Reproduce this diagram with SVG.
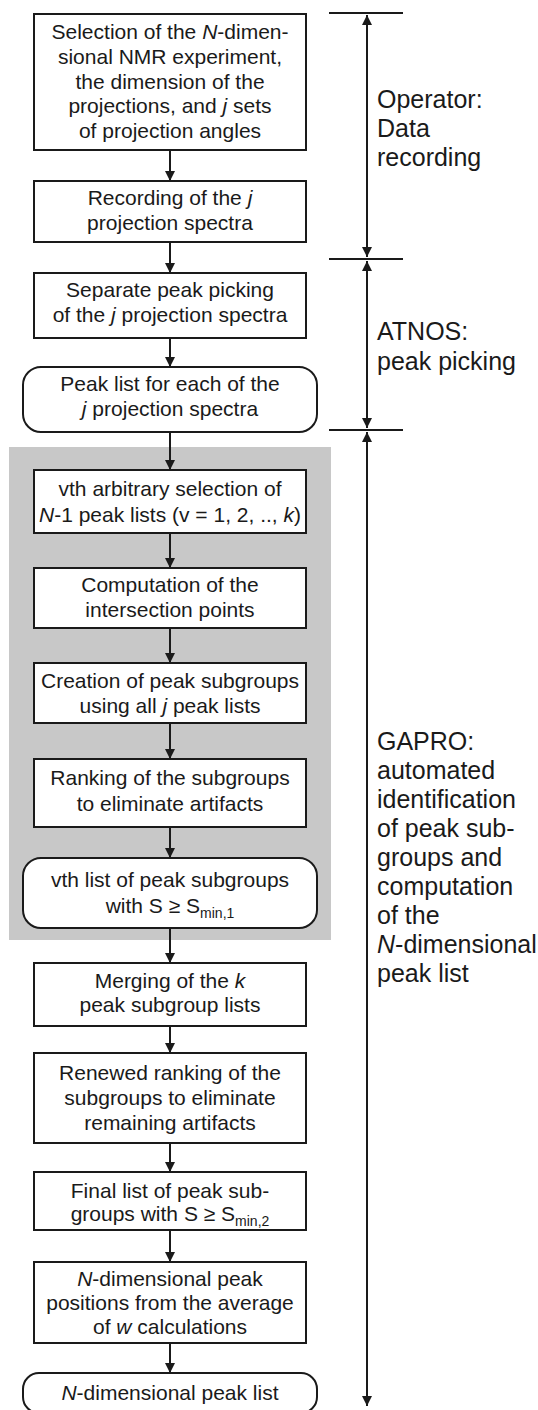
<svg xmlns="http://www.w3.org/2000/svg" width="538" height="1410" viewBox="0 0 538 1410">
  <defs>
    <marker id="head" viewBox="0 0 10 10" refX="10" refY="5" markerWidth="10" markerHeight="11" markerUnits="userSpaceOnUse" orient="auto-start-reverse">
      <path d="M0,0 L10,5 L0,10 Z" fill="#1a1a1a"/>
    </marker>
    <style>
      .box { fill: #ffffff; stroke: #1a1a1a; stroke-width: 2; }
      .t { font-family: "Liberation Sans", Arial, sans-serif; font-size: 21px; fill: #1a1a1a; text-anchor: middle; }
      .lbl { font-family: "Liberation Sans", Arial, sans-serif; font-size: 25px; fill: #1a1a1a; }
      .i { font-style: italic; }
      .sub { font-size: 14px; }
      .conn { stroke: #1a1a1a; stroke-width: 2; fill: none; }
      .bar { stroke: #1a1a1a; stroke-width: 2; }
    </style>
  </defs>

  <!-- shaded block: per-selection loop -->
  <rect x="9" y="447" width="322" height="493" fill="#c8c8c8"/>

  <g id="connectors">
    <line class="conn" x1="170" y1="150" x2="170" y2="181" marker-end="url(#head)"/>
    <line class="conn" x1="170" y1="242" x2="170" y2="273" marker-end="url(#head)"/>
    <line class="conn" x1="170" y1="338" x2="170" y2="367" marker-end="url(#head)"/>
    <line class="conn" x1="170" y1="432" x2="170" y2="470" marker-end="url(#head)"/>
    <line class="conn" x1="170" y1="533" x2="170" y2="568" marker-end="url(#head)"/>
    <line class="conn" x1="170" y1="628" x2="170" y2="663" marker-end="url(#head)"/>
    <line class="conn" x1="170" y1="723" x2="170" y2="759" marker-end="url(#head)"/>
    <line class="conn" x1="170" y1="827" x2="170" y2="858" marker-end="url(#head)"/>
    <line class="conn" x1="170" y1="928" x2="170" y2="963" marker-end="url(#head)"/>
    <line class="conn" x1="170" y1="1026" x2="170" y2="1053" marker-end="url(#head)"/>
    <line class="conn" x1="170" y1="1143" x2="170" y2="1172" marker-end="url(#head)"/>
    <line class="conn" x1="170" y1="1230" x2="170" y2="1262" marker-end="url(#head)"/>
    <line class="conn" x1="170" y1="1343" x2="170" y2="1373" marker-end="url(#head)"/>
  </g>

  <g id="n1">
    <rect class="box" x="34" y="14" width="272" height="136"/>
    <text class="t" x="170" y="39">Selection of the <tspan class="i">N</tspan>-dimen-</text>
    <text class="t" x="170" y="64">sional NMR experiment,</text>
    <text class="t" x="170" y="89">the dimension of the</text>
    <text class="t" x="170" y="113">projections, and <tspan class="i">j</tspan> sets</text>
    <text class="t" x="170" y="138">of projection angles</text>
  </g>

  <g id="n2">
    <rect class="box" x="34" y="181" width="272" height="61"/>
    <text class="t" x="170" y="205">Recording of the <tspan class="i">j</tspan></text>
    <text class="t" x="170" y="230">projection spectra</text>
  </g>

  <g id="n3">
    <rect class="box" x="34" y="273" width="272" height="65"/>
    <text class="t" x="170" y="297">Separate peak picking</text>
    <text class="t" x="170" y="322">of the <tspan class="i">j</tspan> projection spectra</text>
  </g>

  <g id="n4">
    <rect class="box" x="23" y="367" width="294" height="65" rx="18" ry="18"/>
    <text class="t" x="170" y="391">Peak list for each of the</text>
    <text class="t" x="170" y="416"><tspan class="i">j</tspan> projection spectra</text>
  </g>

  <g id="n5">
    <rect class="box" x="34" y="470" width="272" height="63"/>
    <text class="t" x="170" y="496">vth arbitrary selection of</text>
    <text class="t" x="170" y="522"><tspan class="i">N</tspan>-1 peak lists (v = 1, 2, .., <tspan class="i">k</tspan>)</text>
  </g>

  <g id="n6">
    <rect class="box" x="34" y="568" width="272" height="60"/>
    <text class="t" x="170" y="592">Computation of the</text>
    <text class="t" x="170" y="617">intersection points</text>
  </g>

  <g id="n7">
    <rect class="box" x="34" y="663" width="272" height="60"/>
    <text class="t" x="170" y="688">Creation of peak subgroups</text>
    <text class="t" x="170" y="713">using all <tspan class="i">j</tspan> peak lists</text>
  </g>

  <g id="n8">
    <rect class="box" x="34" y="759" width="272" height="68"/>
    <text class="t" x="170" y="785">Ranking of the subgroups</text>
    <text class="t" x="170" y="811">to eliminate artifacts</text>
  </g>

  <g id="n9">
    <rect class="box" x="23" y="858" width="294" height="70" rx="18" ry="18"/>
    <text class="t" x="170" y="887">vth list of peak subgroups</text>
    <text class="t" x="170" y="913">with S ≥ S<tspan class="sub" dy="5">min,1</tspan></text>
  </g>

  <g id="n10">
    <rect class="box" x="34" y="963" width="272" height="63"/>
    <text class="t" x="170" y="988">Merging of the <tspan class="i">k</tspan></text>
    <text class="t" x="170" y="1012">peak subgroup lists</text>
  </g>

  <g id="n11">
    <rect class="box" x="34" y="1053" width="272" height="90"/>
    <text class="t" x="170" y="1080">Renewed ranking of the</text>
    <text class="t" x="170" y="1105">subgroups to eliminate</text>
    <text class="t" x="170" y="1130">remaining artifacts</text>
  </g>

  <g id="n12">
    <rect class="box" x="34" y="1172" width="272" height="58"/>
    <text class="t" x="170" y="1198">Final list of peak sub-</text>
    <text class="t" x="170" y="1221">groups with S ≥ S<tspan class="sub" dy="5">min,2</tspan></text>
  </g>

  <g id="n13">
    <rect class="box" x="34" y="1262" width="272" height="81"/>
    <text class="t" x="170" y="1286"><tspan class="i">N</tspan>-dimensional peak</text>
    <text class="t" x="170" y="1310">positions from the average</text>
    <text class="t" x="170" y="1334">of <tspan class="i">w</tspan> calculations</text>
  </g>

  <g id="n14">
    <rect class="box" x="23" y="1373" width="294" height="40" rx="16" ry="16"/>
    <text class="t" x="170" y="1400"><tspan class="i">N</tspan>-dimensional peak list</text>
  </g>

  <!-- stage brackets on the right -->
  <g id="stages">
    <line class="bar" x1="329" y1="13" x2="403" y2="13"/>
    <line class="bar" x1="329" y1="259" x2="403" y2="259"/>
    <line class="bar" x1="329" y1="430" x2="403" y2="430"/>
    <line class="conn" x1="367" y1="15" x2="367" y2="257" marker-start="url(#head)" marker-end="url(#head)"/>
    <line class="conn" x1="367" y1="261" x2="367" y2="428" marker-start="url(#head)" marker-end="url(#head)"/>
    <line class="conn" x1="367" y1="432" x2="367" y2="1406" marker-start="url(#head)" marker-end="url(#head)"/>
  </g>

  <g id="stage-operator">
    <text class="lbl" x="377" y="108">Operator:</text>
    <text class="lbl" x="377" y="137">Data</text>
    <text class="lbl" x="377" y="166">recording</text>
  </g>

  <g id="stage-atnos">
    <text class="lbl" x="377" y="340">ATNOS:</text>
    <text class="lbl" x="377" y="370">peak picking</text>
  </g>

  <g id="stage-gapro">
    <text class="lbl" x="377" y="750">GAPRO:</text>
    <text class="lbl" x="377" y="779">automated</text>
    <text class="lbl" x="377" y="808">identification</text>
    <text class="lbl" x="377" y="837">of peak sub-</text>
    <text class="lbl" x="377" y="866">groups and</text>
    <text class="lbl" x="377" y="895">computation</text>
    <text class="lbl" x="377" y="924">of the</text>
    <text class="lbl" x="377" y="953"><tspan class="i">N</tspan>-dimensional</text>
    <text class="lbl" x="377" y="982">peak list</text>
  </g>
</svg>
